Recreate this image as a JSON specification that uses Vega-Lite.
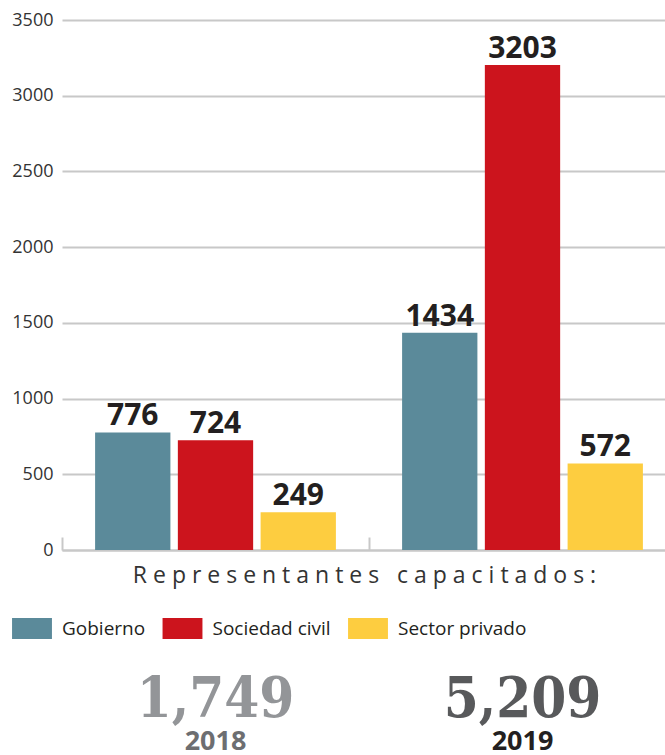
{
  "$schema": "https://vega.github.io/schema/vega-lite/v6.json",
  "padding": {"left": 11, "top": 11, "right": 0, "bottom": 0},
  "background": "white",
  "config": {"view": {"stroke": null}, "font": "Open Sans", "concat": {"spacing": 33}},
  "datasets": {
    "bars": [
      {"year": "2018", "sector": "Gobierno", "value": 776},
      {"year": "2018", "sector": "Sociedad civil", "value": 724},
      {"year": "2018", "sector": "Sector privado", "value": 249},
      {"year": "2019", "sector": "Gobierno", "value": 1434},
      {"year": "2019", "sector": "Sociedad civil", "value": 3203},
      {"year": "2019", "sector": "Sector privado", "value": 572}
    ],
    "totals": [
      {"year": "2018", "kind": "total", "label": "1,749"},
      {"year": "2019", "kind": "total", "label": "5,209"},
      {"year": "2018", "kind": "year", "label": "2018"},
      {"year": "2019", "kind": "year", "label": "2019"}
    ]
  },
  "vconcat": [
    {
      "width": 614,
      "height": 530,
      "data": {"name": "bars"},
      "encoding": {
        "x": {
          "field": "year", "type": "nominal",
          "scale": {"paddingInner": 0, "paddingOuter": 0},
          "axis": {
            "title": "R e p r e s e n t a n t e s\u00a0\u00a0\u00a0c a p a c i t a d o s :",
            "labels": false,
            "domainColor": "#c8c8c8", "domainWidth": 2,
            "ticks": true, "tickBand": "extent", "tickSize": -13,
            "tickColor": "#c8c8c8", "tickWidth": 2,
            "titleFont": "Open Sans", "titleFontSize": 23, "titleFontWeight": "normal",
            "titleColor": "#333333", "titlePadding": 13, "titleX": 302, "grid": false
          }
        },
        "xOffset": {
          "field": "sector", "type": "nominal",
          "sort": ["Gobierno", "Sociedad civil", "Sector privado"],
          "scale": {"paddingInner": 0.09, "paddingOuter": 0.4}
        },
        "y": {
          "field": "value", "type": "quantitative",
          "scale": {"domain": [0, 3500], "nice": false},
          "axis": {
            "title": null, "format": "d",
            "values": [0, 500, 1000, 1500, 2000, 2500, 3000, 3500],
            "domain": false, "ticks": false,
            "labelFont": "Open Sans", "labelFontSize": 18, "labelColor": "#333333",
            "labelPadding": 9, "gridColor": "#c8c8c8", "gridWidth": 2
          }
        }
      },
      "layer": [
        {
          "mark": {"type": "bar"},
          "encoding": {
            "color": {
              "field": "sector", "type": "nominal",
              "scale": {"domain": ["Gobierno", "Sociedad civil", "Sector privado"], "range": ["#5b8a9a", "#cc141d", "#fdcd40"]},
              "legend": {
                "orient": "none", "legendX": -40.5, "legendY": 598,
                "direction": "horizontal", "title": null,
                "symbolType": "M-1.9,-1L1.9,-1L1.9,1L-1.9,1Z", "symbolSize": 441,
                "symbolStrokeWidth": 0, "symbolOpacity": 1,
                "labelFont": "Open Sans", "labelFontSize": 19, "labelColor": "#231f20",
                "labelOffset": 19.5, "columnPadding": 16.5
              }
            }
          }
        },
        {
          "mark": {"type": "text", "baseline": "alphabetic", "dy": -7, "fontSize": 30, "fontWeight": "bold", "color": "#231f20", "font": "Open Sans"},
          "encoding": {"text": {"field": "value", "type": "quantitative", "format": "d"}}
        }
      ]
    },
    {
      "width": 614,
      "height": 84,
      "data": {"name": "totals"},
      "encoding": {
        "x": {"field": "year", "type": "nominal", "scale": {"paddingInner": 0, "paddingOuter": 0}, "axis": null},
        "y": {"field": "kind", "type": "nominal", "scale": {"type": "point", "padding": 0.5, "domain": ["total", "year"]}, "axis": null},
        "text": {"field": "label", "type": "nominal"}
      },
      "layer": [
        {
          "transform": [{"filter": "datum.kind === 'total'"}],
          "mark": {"type": "text", "font": "DejaVu Serif Condensed, DejaVu Serif, Liberation Serif", "fontWeight": "bold", "fontSize": 56, "baseline": "middle"},
          "encoding": {"color": {"condition": {"test": "datum.year === '2018'", "value": "#939598"}, "value": "#58595b"}}
        },
        {
          "transform": [{"filter": "datum.kind === 'year'"}],
          "mark": {"type": "text", "font": "Open Sans", "fontWeight": "bold", "fontSize": 27, "baseline": "middle"},
          "encoding": {"color": {"condition": {"test": "datum.year === '2018'", "value": "#6d6e71"}, "value": "#231f20"}}
        }
      ]
    }
  ],
  "resolve": {"scale": {"x": "independent", "color": "independent"}}
}
